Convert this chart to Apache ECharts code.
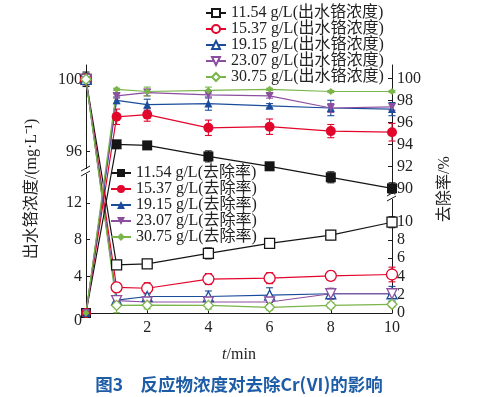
<!DOCTYPE html>
<html><head><meta charset="utf-8">
<script src="https://cdn.jsdelivr.net/npm/echarts@6/dist/echarts.min.js"></script>
<style>html,body{margin:0;padding:0;background:#fff}#c{width:478px;height:397px}</style>
</head><body><div id="c"></div>
<script>
// ---- data ----
const time = [0, 1, 2, 4, 6, 8, 10];
const concentrations = ['11.54', '15.37', '19.15', '23.07', '30.75'];
// 出水铬浓度 (mg/L)
const conc1154 = [100, 5.25, 5.35, 6.5, 7.6, 8.5, 9.9];
const conc1537 = [100, 2.8, 2.7, 3.7, 3.8, 4.05, 4.2];
const conc1915 = [100, 1.4, 1.8, 1.8, 1.95, 2.1, 2.1];
const conc2307 = [100, 1.35, 1.2, 1.2, 1.2, 2.1, 2.1];
const conc3075 = [100, 0.83, 0.85, 0.83, 0.62, 0.83, 0.95];
// 去除率 (%)
const rem1154 = [0, 94.0, 93.9, 92.9, 92.0, 91.0, 90.0];
const rem1537 = [0, 96.5, 96.7, 95.5, 95.6, 95.2, 95.1];
const rem1915 = [0, 98.0, 97.6, 97.7, 97.5, 97.3, 97.2];
const rem2307 = [0, 98.4, 98.7, 98.5, 98.4, 97.3, 97.4];
const rem3075 = [0, 99.0, 98.8, 98.9, 99.0, 98.8, 98.8];
// error bars (±)
const errConc1154 = [0.4, 0.2, 0.2, 0.6, 0.3, 0.5, 0.6];
const errConc1537 = [0.3, 0.5, 0.6, 0.6, 0.6, 0.5, 0.8];
const errConc1915 = [0.3, 0.4, 0.3, 0.6, 0.8, 0.5, 0.8];
const errConc2307 = [0.3, 0.3, 0.2, 0.2, 0.3, 0.6, 0.5];
const errConc3075 = [0.3, 0.8, 0.4, 0.4, 0.3, 0.3, 0.3];
const errRem1154 = [0.3, 0.1, 0.1, 0.5, 0.2, 0.5, 0.5];
const errRem1537 = [0.3, 0.7, 0.6, 0.7, 0.7, 0.6, 0.8];
const errRem1915 = [0.3, 0.3, 0.5, 0.6, 0.2, 0.7, 0.6];
const errRem2307 = [0.3, 0.2, 0.3, 0.3, 0.2, 0.4, 0.3];
const errRem3075 = [0.3, 0.1, 0.4, 0.3, 0.1, 0.1, 0.1];
// tick labels
const xTicks = [0, 2, 4, 6, 8, 10];
const leftTicks = [0, 4, 8, 12, 96, 100];
const rightTicks = [0, 2, 4, 6, 8, 10, 90, 92, 94, 96, 98, 100];

// ---- broken-axis mapping (value -> virtual linear coordinate of a hidden scale) ----
const V_MAX = 248;
function mapLeft(v) { return v <= 50 ? v * 9.17 : 161.3 + (v - 96) * 18.1; }
function mapRight(v) { return v <= 50 ? v * 9.13 : 124.7 + (v - 90) * 11.0; }

const FONT = '"Liberation Serif", "Noto Sans CJK SC", serif';
const colors = ['#151515', '#e3062c', '#1b4c9b', '#8c4f9f', '#79b548'];
const openSymbols = ['rect', 'circle', 'triangle', 'triangle', 'diamond'];
const openRot = [0, 0, 0, 180, 0];
const openSize = [10, 11, 10, 10, 10];
const fillSize = [10, 10, 8, 8, 7];

const concData = [conc1154, conc1537, conc1915, conc2307, conc3075];
const remData = [rem1154, rem1537, rem1915, rem2307, rem3075];
const concErr = [errConc1154, errConc1537, errConc1915, errConc2307, errConc3075];
const remErr = [errRem1154, errRem1537, errRem1915, errRem2307, errRem3075];

const concNames = concentrations.map(c => c + ' g/L(出水铬浓度)');
const remNames = concentrations.map(c => c + ' g/L(去除率)');

function errSeries(vals, errs, map, color, yIdx) {
  return {
    type: 'custom', yAxisIndex: yIdx, z: 1, silent: true,
    data: time.map((t, i) => [t, map(vals[i] - errs[i]), map(vals[i] + errs[i])]),
    renderItem: function (params, api) {
      const x = api.value(0);
      const a = api.coord([x, api.value(1)]);
      const b = api.coord([x, api.value(2)]);
      const st = { stroke: color, lineWidth: 1.1 };
      return {
        type: 'group', children: [
          { type: 'line', shape: { x1: a[0], y1: a[1], x2: b[0], y2: b[1] }, style: st },
          { type: 'line', shape: { x1: a[0] - 3.5, y1: a[1], x2: a[0] + 3.5, y2: a[1] }, style: st },
          { type: 'line', shape: { x1: b[0] - 3.5, y1: b[1], x2: b[0] + 3.5, y2: b[1] }, style: st }
        ]
      };
    }
  };
}

const series = [];
for (let k = 0; k < 5; k++) {
  series.push(errSeries(concData[k], concErr[k], mapLeft, colors[k], 0));
  series.push(errSeries(remData[k], remErr[k], mapRight, colors[k], 1));
}
for (let k = 0; k < 5; k++) {
  series.push({
    name: concNames[k], type: 'line', yAxisIndex: 0, z: 3,
    data: time.map((t, i) => [t, mapLeft(concData[k][i])]),
    symbol: openSymbols[k], symbolRotate: openRot[k], symbolSize: openSize[k],
    showAllSymbol: true,
    lineStyle: { color: colors[k], width: 1.2 },
    itemStyle: { color: '#fff', borderColor: colors[k], borderWidth: 1.3 }
  });
}
for (let k = 0; k < 5; k++) {
  series.push({
    name: remNames[k], type: 'line', yAxisIndex: 1, z: 4,
    data: time.map((t, i) => [t, mapRight(remData[k][i])]),
    symbol: openSymbols[k], symbolRotate: openRot[k], symbolSize: fillSize[k],
    showAllSymbol: true,
    lineStyle: { color: colors[k], width: 1.2 },
    itemStyle: { color: colors[k], borderColor: colors[k], borderWidth: 0 }
  });
}

function labelFor(ticks, map) {
  return function (v) {
    for (const t of ticks) if (Math.abs(map(t) - v) < 0.01) return t === 0 && map === mapLeft ? '{z|0}' : String(t);
    return '';
  };
}

const axisLineStyle = { lineStyle: { color: '#1a1a1a', width: 1 } };
const chart = echarts.init(document.getElementById('c'));
chart.setOption({
  animation: false,
  backgroundColor: '#fff',
  title: {
    text: '图3　反应物浓度对去除Cr(Ⅵ)的影响', left: 'center', top: 371,
    textStyle: { fontSize: 17.5, fontWeight: 'bold', color: '#1d5ca6', fontFamily: '"Noto Sans CJK SC", sans-serif' }
  },
  grid: { left: 86, right: 86, top: 65, bottom: 84, containLabel: false, outerBoundsMode: 'none' },
  legend: [
    {
      data: concNames, orient: 'vertical', left: 200, top: 0, itemWidth: 20, itemHeight: 10, itemGap: 0,
      textStyle: { fontSize: 16, lineHeight: 15.8, fontFamily: FONT, color: '#222' }
    },
    {
      data: remNames, orient: 'vertical', left: 105, top: 160, itemWidth: 20, itemHeight: 10, itemGap: 0,
      textStyle: { fontSize: 16, lineHeight: 16, fontFamily: FONT, color: '#222' }
    }
  ],
  xAxis: {
    type: 'value', min: 0, max: 10, interval: 2,
    axisLine: axisLineStyle,
    axisTick: { inside: true, length: 4, lineStyle: { color: '#1a1a1a' } },
    splitLine: { show: false },
    axisLabel: { fontSize: 16, fontFamily: FONT, color: '#222', margin: 7, formatter: v => (v === 0 ? '' : String(v)),
      customValues: xTicks },
    name: '{i|t}/min', nameLocation: 'middle', nameGap: 34,
    nameTextStyle: { fontSize: 16, fontFamily: FONT, color: '#222', rich: { i: { fontStyle: 'italic', fontSize: 16, fontFamily: FONT, color: '#222' } } }
  },
  yAxis: [
    {
      type: 'value', min: 0, max: V_MAX, position: 'left',
      axisLine: { show: true, lineStyle: { color: '#1a1a1a', width: 1 } },
      axisTick: { show: true, inside: true, length: 4, customValues: leftTicks.map(mapLeft), lineStyle: { color: '#1a1a1a' } },
      splitLine: { show: false },
      axisLabel: {
        customValues: leftTicks.map(mapLeft), fontSize: 16, fontFamily: FONT, color: '#222', margin: 4,
        formatter: labelFor(leftTicks, mapLeft),
        rich: { z: { fontSize: 16, fontFamily: FONT, color: '#222', padding: [16, 0, 0, 0] } }
      },
      name: '出水铬浓度/(mg·L⁻¹)', nameLocation: 'middle', nameGap: 46, nameRotate: 90,
      nameTextStyle: { fontSize: 16, fontFamily: FONT, color: '#222' }
    },
    {
      type: 'value', min: 0, max: V_MAX, position: 'right',
      axisLine: { show: true, lineStyle: { color: '#1a1a1a', width: 1 } },
      axisTick: { show: true, inside: true, length: 4, customValues: rightTicks.map(mapRight), lineStyle: { color: '#1a1a1a' } },
      splitLine: { show: false },
      axisLabel: {
        customValues: rightTicks.map(mapRight), fontSize: 16, fontFamily: FONT, color: '#222', margin: 5,
        formatter: labelFor(rightTicks, mapRight)
      },
      name: '去除率/%', nameLocation: 'middle', nameGap: 45, nameRotate: 90,
      nameTextStyle: { fontSize: 16, fontFamily: FONT, color: '#222' }
    }
  ],
  series: series
});

// axis break marks
function breakMark(x, y) {
  return [
    { type: 'rect', shape: { x: x - 2, y: y - 3, width: 4, height: 5 }, style: { fill: '#fff' }, z: 100 },
    { type: 'line', shape: { x1: x - 5, y1: y - 1, x2: x + 4, y2: y - 6 }, style: { stroke: '#1a1a1a', lineWidth: 1 }, z: 101 },
    { type: 'line', shape: { x1: x - 5, y1: y + 4, x2: x + 4, y2: y - 1 }, style: { stroke: '#1a1a1a', lineWidth: 1 }, z: 101 }
  ];
}
const lb = chart.convertToPixel({ gridIndex: 0 }, [0, 141]);
const rb = chart.convertToPixel({ gridIndex: 0 }, [10, 116]);
chart.setOption({ graphic: breakMark(lb[0], lb[1]).concat(breakMark(rb[0], rb[1])) });
</script></body></html>
